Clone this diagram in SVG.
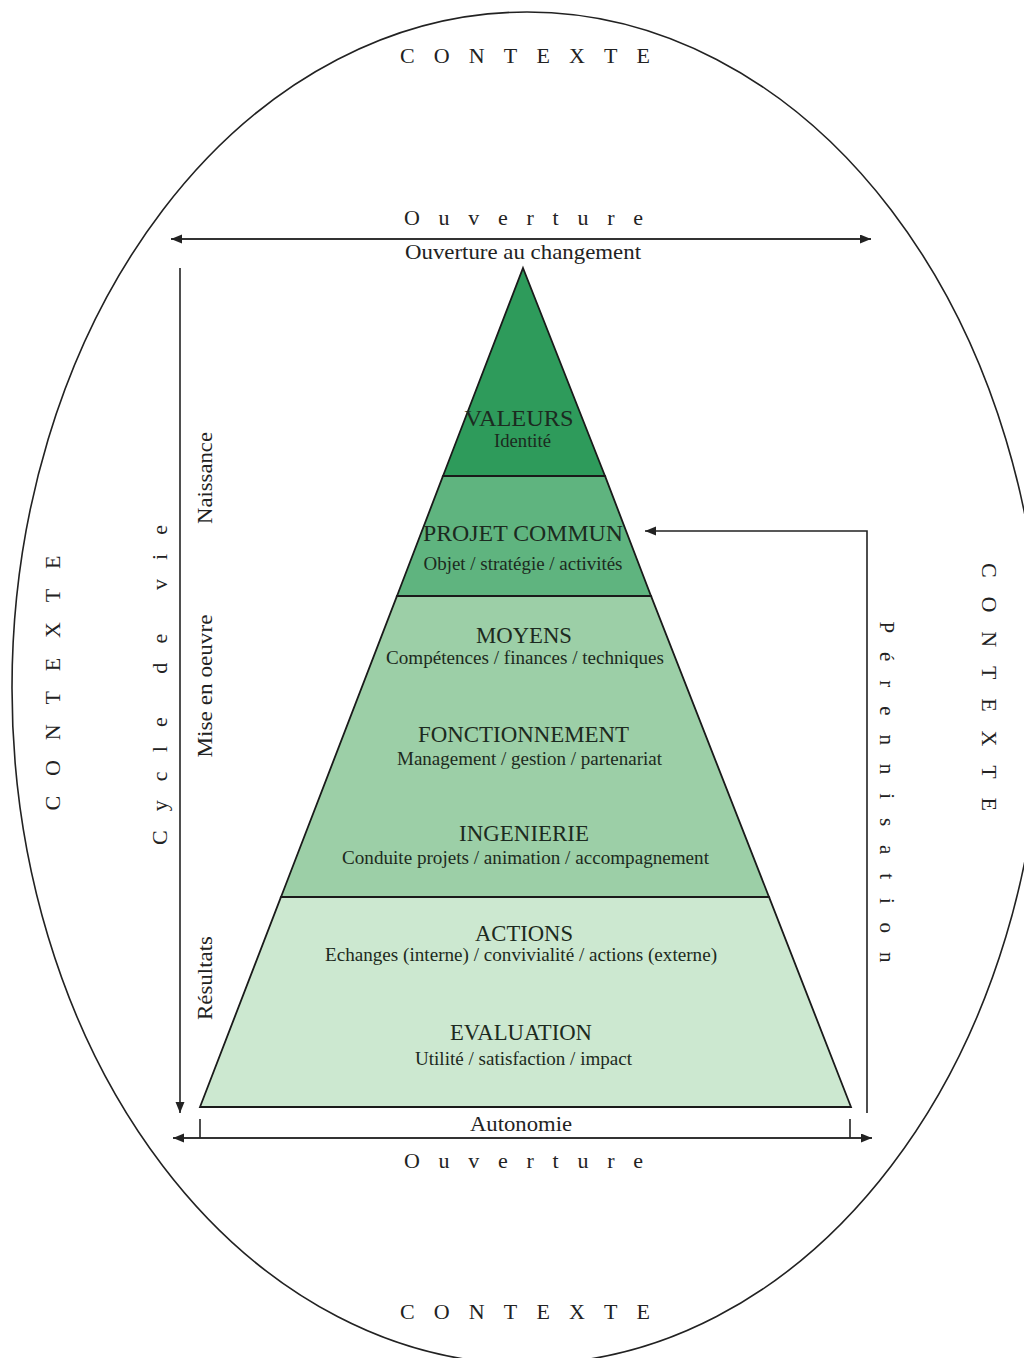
<svg xmlns="http://www.w3.org/2000/svg" width="1024" height="1358" viewBox="0 0 1024 1358">
<style>
  .t { font-family: "Liberation Serif", "Times New Roman", serif; fill: #222; }
  .ttl { font-size: 23px; text-anchor: middle; fill: #1c2a20; }
  .sub { font-size: 18px; text-anchor: middle; fill: #1c2a20; }
  .lbl { font-size: 21px; text-anchor: middle; }
  .sp { font-size: 22px; text-anchor: middle; }
  .band { stroke: #1a1a1a; stroke-width: 1.8; }
  .conn { stroke: #222; stroke-width: 1.6; fill: none; }
  .conn2 { stroke: #333; stroke-width: 2.2; fill: none; }
</style>
<defs>
  <marker id="ah" markerUnits="userSpaceOnUse" markerWidth="12" markerHeight="10" refX="11" refY="4.5" orient="auto-start-reverse">
    <path d="M0,0 L11,4.5 L0,9 z" fill="#222"/>
  </marker>
</defs>
<rect width="1024" height="1358" fill="#ffffff"/>

<g id="context">
  <ellipse cx="527" cy="688" rx="515" ry="676" fill="none" stroke="#222" stroke-width="1.6"/>
  <text class="t sp" x="525" y="63" textLength="250" lengthAdjust="spacing">CONTEXTE</text>
  <text class="t sp" x="525" y="1319" textLength="250" lengthAdjust="spacing">CONTEXTE</text>
  <text class="t sp" transform="translate(60,683) rotate(-90)" textLength="255" lengthAdjust="spacing">CONTEXTE</text>
  <text class="t sp" transform="translate(982,687) rotate(90)" textLength="248" lengthAdjust="spacing">CONTEXTE</text>
</g>

<g id="connectors">
  <line class="conn2" x1="171" y1="239" x2="871" y2="239" marker-start="url(#ah)" marker-end="url(#ah)"/>
  <line class="conn2" x1="173" y1="1138" x2="872" y2="1138" marker-start="url(#ah)" marker-end="url(#ah)"/>
  <line class="conn" x1="200" y1="1119" x2="200" y2="1138"/>
  <line class="conn" x1="850" y1="1119" x2="850" y2="1138"/>
  <line class="conn" x1="180" y1="268" x2="180" y2="1113" marker-end="url(#ah)"/>
  <polyline class="conn" points="867,1113 867,531 645,531" marker-end="url(#ah)"/>
</g>

<g id="ouverture-top">
  <text class="t sp" x="523.5" y="225" textLength="239" lengthAdjust="spacing">Ouverture</text>
  <text class="t lbl" x="523" y="259" textLength="236" lengthAdjust="spacingAndGlyphs">Ouverture au changement</text>
</g>

<g id="ouverture-bottom">
  <text class="t lbl" x="521" y="1131" textLength="102" lengthAdjust="spacingAndGlyphs">Autonomie</text>
  <text class="t sp" x="523.5" y="1168" textLength="239" lengthAdjust="spacing">Ouverture</text>
</g>

<g id="cycle-de-vie">
  <text class="t sp" transform="translate(167,685) rotate(-90)" textLength="320" lengthAdjust="spacing">Cycle de vie</text>
  <text class="t lbl" transform="translate(212,478) rotate(-90)" textLength="92" lengthAdjust="spacingAndGlyphs">Naissance</text>
  <text class="t lbl" transform="translate(212,686) rotate(-90)" textLength="143" lengthAdjust="spacingAndGlyphs">Mise en oeuvre</text>
  <text class="t lbl" transform="translate(212,978) rotate(-90)" textLength="84" lengthAdjust="spacingAndGlyphs">Résultats</text>
</g>

<g id="perennisation">
  <text class="t lbl" transform="translate(880,792) rotate(90)" textLength="341" lengthAdjust="spacing">Pérennisation</text>
</g>

<g id="valeurs">
  <polygon class="band" points="523,268 605,476 443,476" fill="#2e9b5b"/>
  <text class="t ttl" x="519" y="426" textLength="109" lengthAdjust="spacingAndGlyphs">VALEURS</text>
  <text class="t sub" x="522.5" y="447" textLength="57" lengthAdjust="spacingAndGlyphs">Identité</text>
</g>

<g id="projet-commun">
  <polygon class="band" points="443,476 605,476 651,596 397,596" fill="#5fb47f"/>
  <text class="t ttl" x="523" y="541" textLength="200" lengthAdjust="spacingAndGlyphs">PROJET COMMUN</text>
  <text class="t sub" x="523" y="570" textLength="199" lengthAdjust="spacingAndGlyphs">Objet / stratégie / activités</text>
</g>

<g id="moyens-fonctionnement-ingenierie">
  <polygon class="band" points="397,596 651,596 769,897 281,897" fill="#9ccfa7"/>
  <text class="t ttl" x="524" y="643" textLength="96" lengthAdjust="spacingAndGlyphs">MOYENS</text>
  <text class="t sub" x="525" y="664" textLength="278" lengthAdjust="spacingAndGlyphs">Compétences / finances / techniques</text>
  <text class="t ttl" x="523.5" y="742" textLength="211" lengthAdjust="spacingAndGlyphs">FONCTIONNEMENT</text>
  <text class="t sub" x="529.5" y="765" textLength="265" lengthAdjust="spacingAndGlyphs">Management / gestion / partenariat</text>
  <text class="t ttl" x="524" y="841" textLength="130" lengthAdjust="spacingAndGlyphs">INGENIERIE</text>
  <text class="t sub" x="525.5" y="864" textLength="367" lengthAdjust="spacingAndGlyphs">Conduite projets / animation / accompagnement</text>
</g>

<g id="actions-evaluation">
  <polygon class="band" points="281,897 769,897 851,1107 200,1107" fill="#cce8d0"/>
  <text class="t ttl" x="524" y="941" textLength="98" lengthAdjust="spacingAndGlyphs">ACTIONS</text>
  <text class="t sub" x="521" y="961" textLength="392" lengthAdjust="spacingAndGlyphs">Echanges (interne) / convivialité / actions (externe)</text>
  <text class="t ttl" x="521" y="1040" textLength="142" lengthAdjust="spacingAndGlyphs">EVALUATION</text>
  <text class="t sub" x="523.5" y="1065" textLength="217" lengthAdjust="spacingAndGlyphs">Utilité / satisfaction / impact</text>
</g>
</svg>
